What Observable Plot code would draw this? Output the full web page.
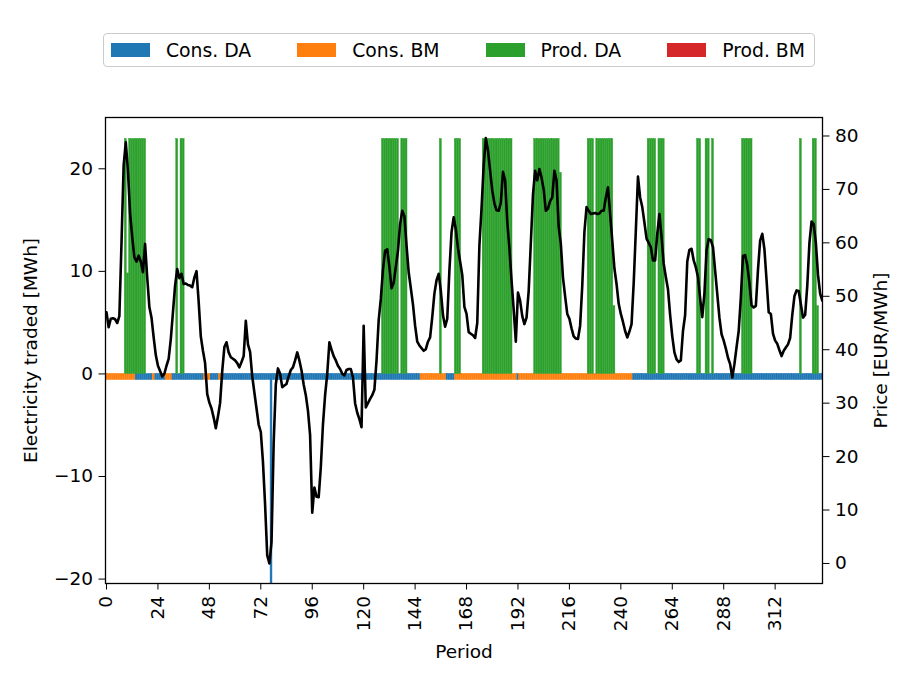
<!DOCTYPE html>
<html><head><meta charset="utf-8">
<script src="https://cdn.jsdelivr.net/npm/d3@7"></script>
<script src="https://cdn.jsdelivr.net/npm/@observablehq/plot@0.6"></script>
<style>
body{margin:0;background:#fff;font-family:"DejaVu Sans",sans-serif;}
#wrap{width:913px;}
#legend{height:67px;position:relative;}
#legend .box{position:absolute;left:103px;top:33px;width:699px;height:32px;border:1px solid #cccccc;border-radius:4px;display:flex;align-items:center;padding-left:7px;padding-right:4px;}
.item{display:flex;align-items:center;margin-right:46px;font-size:18.8px;color:#000;white-space:nowrap;}
.item:last-child{margin-right:0;}
.sw{width:39px;height:14px;margin-right:16px;}
</style></head>
<body><div id="wrap"><div id="legend"><div class="box"></div></div><div id="chart"></div></div>
<script>
// ---- data (hourly periods 0..335) ----
const seriesNames = ["Cons. DA", "Cons. BM", "Prod. DA", "Prod. BM"];
const seriesColors = ["#1f77b4", "#ff7f0e", "#2ca02c", "#d62728"];

const price = [
 47.0,44.2,45.8,45.9,45.7,45.0,46.3,60.0,74.5,78.8,73.5,65.5,61.1,57.3,56.5,57.6,56.5,54.5,59.8,53.5,48.0,46.0,42.3,39.0,
 37.0,36.0,35.0,35.5,37.0,38.3,42.0,47.0,52.0,55.1,53.4,54.2,52.3,52.4,52.1,52.0,51.7,53.5,54.7,49.0,42.5,39.8,37.5,31.7,
 30.1,29.0,27.3,25.3,27.5,30.0,36.0,40.5,41.4,39.5,38.6,38.3,38.0,37.5,36.7,37.7,38.8,45.4,41.0,39.6,35.0,32.0,29.0,26.0,
 24.6,19.0,11.0,1.5,0.0,4.0,22.5,33.5,36.5,35.5,33.0,33.3,33.6,35.0,36.2,36.7,38.0,39.5,38.0,36.1,33.5,31.5,28.6,24.0,
 9.5,14.2,12.5,12.4,18.0,26.0,31.5,35.5,41.4,40.0,38.8,38.0,37.0,36.4,35.5,35.2,36.2,36.4,36.4,34.8,30.0,28.2,27.0,25.5,
 44.5,29.2,30.0,30.8,31.5,32.5,38.0,45.5,49.5,55.0,58.5,58.8,55.5,51.5,52.5,55.5,58.5,63.5,66.0,65.0,59.5,54.5,51.5,48.5,
 44.5,41.5,40.8,40.3,39.8,40.1,41.5,42.3,46.1,50.5,53.0,54.2,51.0,46.5,44.3,45.8,54.8,62.0,64.8,62.5,59.0,56.5,54.0,48.0,
 46.7,43.3,43.0,42.7,42.2,45.0,59.5,66.5,74.5,79.6,77.3,73.5,69.8,67.4,66.1,66.0,67.5,73.3,71.7,64.0,59.0,53.0,47.5,41.5,
 50.7,49.2,46.3,44.8,46.0,51.0,60.0,69.0,73.5,71.7,73.8,72.2,70.0,66.0,66.4,67.8,68.5,73.5,71.7,63.0,59.8,53.5,50.0,46.7,
 45.8,44.0,42.5,42.1,42.0,44.5,52.0,62.0,66.7,66.0,65.4,65.5,65.6,65.4,65.5,66.0,66.0,68.5,70.4,65.4,60.4,55.2,52.3,48.6,
 46.7,45.2,43.5,42.3,43.4,44.8,52.5,62.3,72.4,68.5,66.7,63.8,60.8,60.0,59.2,56.7,56.7,61.7,65.4,61.1,56.1,53.6,51.3,46.5,
 42.5,39.5,38.2,37.7,38.0,43.5,46.5,56.5,58.7,58.9,56.7,55.4,53.6,49.6,46.1,50.5,58.6,60.7,60.5,59.2,54.8,50.4,46.0,42.9,
 41.7,40.2,38.5,37.3,34.8,37.3,40.5,43.5,49.8,57.6,57.7,55.8,52.5,48.3,47.9,48.2,55.0,60.4,61.7,58.8,53.0,47.0,46.7,43.0,
 41.7,41.1,39.9,38.8,39.8,40.4,41.0,42.2,46.5,50.0,51.1,51.0,48.5,46.0,46.5,52.0,60.0,64.0,63.5,60.0,54.0,50.5,49.2,49.0
];

const consDA = [
 0,0,0,0,0,0, 0,0,0,0,0,0, 0,0,-.6,-.6,-.6,-.6, -.6,-.6,-.6,-.6,0,-.6,
 -.6,-.6,-.6,-.6,0,0, 0,-.6,-.6,-.6,-.6,-.6, -.6,-.6,-.6,-.6,-.6,-.6, -.6,-.6,-.6,-.6,0,0,
 0,-.6,-.6,-.6,-.6,0, -.6,-.6,-.6,-.6,-.6,-.6, -.6,-.6,-.6,-.6,-.6,-.6, -.6,-.6,-.6,-.6,-.6,-.6,
 -.6,-.6,-.6,-.6,-.6,-20.9, -.6,-.6,-.6,-.6,-.6,-.6, -.6,-.6,-.6,-.6,-.6,-.6, -.6,-.6,-.6,-.6,-.6,-.6,
 -.6,-.6,-.6,-.6,-.6,-.6, -.6,-.6,-.6,-.6,-.6,-.6, -.6,-.6,-.6,-.6,-.6,-.6, -.6,-.6,-.6,-.6,-.6,-.6,
 -.6,-.6,-.6,-.6,-.6,-.6, -.6,-.6,-.6,-.6,-.6,-.6, -.6,-.6,-.6,-.6,-.6,-.6, -.6,-.6,-.6,-.6,-.6,-.6,
 -.6,-.6,-.6,0,0,0, 0,0,0,0,0,0, 0,0,0,-.6,-.6,-.6, -.6,0,0,0,0,0,
 0,0,0,0,0,0, 0,0,0,0,0,0, 0,0,0,0,0,0, 0,0,0,0,0,0,
 -.6,0,0,0,0,0, 0,0,0,0,0,0, 0,0,0,0,0,0, 0,0,0,0,0,0,
 0,0,0,0,0,0, 0,0,0,0,0,0, 0,0,0,0,0,0, 0,0,0,0,0,0,
 0,0,0,0,0,0, -.6,-.6,-.6,-.6,-.6,-.6, -.6,-.6,-.6,-.6,-.6,-.6, -.6,-.6,-.6,-.6,-.6,-.6,
 -.6,-.6,-.6,-.6,-.6,-.6, -.6,-.6,-.6,-.6,-.6,-.6, -.6,-.6,-.6,-.6,-.6,-.6, -.6,-.6,-.6,-.6,-.6,-.6,
 -.6,-.6,-.6,-.6,-.6,-.6, -.6,-.6,-.6,-.6,-.6,-.6, -.6,-.6,-.6,-.6,-.6,-.6, -.6,-.6,-.6,-.6,-.6,-.6,
 -.6,-.6,-.6,-.6,-.6,-.6, -.6,-.6,-.6,-.6,-.6,-.6, -.6,-.6,-.6,-.6,-.6,-.6, -.6,-.6,-.6,-.6,-.6,-.6
];

const consBM = [
 -.6,-.6,-.6,-.6,-.6,-.6, -.6,-.6,-.6,-.6,-.6,-.6, -.6,-.6,0,0,0,0, 0,0,0,0,-.6,0,
 0,0,0,0,-.6,-.6, -.6,0,0,0,0,0, 0,0,0,0,0,0, 0,0,0,0,-.6,-.6,
 -.6,0,0,0,0,-.6, 0,0,0,0,0,0, 0,0,0,0,0,0, 0,0,0,0,0,0,
 0,0,0,0,0,0, 0,0,0,0,0,0, 0,0,0,0,0,0, 0,0,0,0,0,0,
 0,0,0,0,0,0, 0,0,0,0,0,0, 0,0,0,0,0,0, 0,0,0,0,0,0,
 0,0,0,0,0,0, 0,0,0,0,0,0, 0,0,0,0,0,0, 0,0,0,0,0,0,
 0,0,0,-.6,-.6,-.6, -.6,-.6,-.6,-.6,-.6,-.6, -.6,-.6,-.6,0,0,0, 0,-.6,-.6,-.6,-.6,-.6,
 -.6,-.6,-.6,-.6,-.6,-.6, -.6,-.6,-.6,-.6,-.6,-.6, -.6,-.6,-.6,-.6,-.6,-.6, -.6,-.6,-.6,-.6,-.6,-.6,
 0,-.6,-.6,-.6,-.6,-.6, -.6,-.6,-.6,-.6,-.6,-.6, -.6,-.6,-.6,-.6,-.6,-.6, -.6,-.6,-.6,-.6,-.6,-.6,
 -.6,-.6,-.6,-.6,-.6,-.6, -.6,-.6,-.6,-.6,-.6,-.6, -.6,-.6,-.6,-.6,-.6,-.6, -.6,-.6,-.6,-.6,-.6,-.6,
 -.6,-.6,-.6,-.6,-.6,-.6, 0,0,0,0,0,0, 0,0,0,0,0,0, 0,0,0,0,0,0,
 0,0,0,0,0,0, 0,0,0,0,0,0, 0,0,0,0,0,0, 0,0,0,0,0,0,
 0,0,0,0,0,0, 0,0,0,0,0,0, 0,0,0,0,0,0, 0,0,0,0,0,0,
 0,0,0,0,0,0, 0,0,0,0,0,0, 0,0,0,0,0,0, 0,0,0,0,0,0
];

const prodDA = [
 0,0,0,0,0,0, 0,0,0,22.9,9.8,22.9, 22.9,22.9,22.9,22.9,22.9,22.9, 22.9,0,0,0,0,0,
 0,0,0,0,0,0, 0,0,0,22.9,0,22.9, 22.9,0,0,0,0,0, 0,0,0,0,0,0,
 0,0,0,0,0,0, 0,0,0,0,0,0, 0,0,0,0,0,0, 0,0,0,0,0,0,
 0,0,0,0,0,0, 0,0,0,0,0,0, 0,0,0,0,0,0, 0,0,0,0,0,0,
 0,0,0,0,0,0, 0,0,0,0,0,0, 0,0,0,0,0,0, 0,0,0,0,0,0,
 0,0,0,0,0,0, 0,0,0,22.9,22.9,22.9, 22.9,22.9,22.9,22.9,22.9,0, 22.9,22.9,22.9,0,0,0,
 0,0,0,0,0,0, 0,0,0,0,0,0, 22.9,0,0,0,0,0, 0,22.9,22.9,22.9,0,0,
 0,0,0,0,0,0, 0,0,22.9,22.9,22.9,22.9, 22.9,22.9,22.9,22.9,22.9,22.9, 22.9,22.9,22.9,22.9,0,0,
 0,0,0,0,0,0, 0,0,22.9,22.9,22.9,22.9, 22.9,22.9,22.9,22.9,22.9,22.9, 22.9,22.9,19.6,0,0,0,
 0,0,0,0,0,0, 0,0,0,22.9,22.9,22.9, 0,22.9,22.9,22.9,22.9,22.9, 22.9,22.9,22.9,6.6,0,0,
 0,0,0,0,0,0, 0,0,0,0,0,0, 0,22.9,22.9,22.9,22.9,0, 22.9,22.9,22.9,0,0,0,
 0,0,0,0,0,0, 0,0,0,0,0,0, 22.9,22.9,0,0,22.9,22.9, 0,22.9,0,0,0,0,
 0,0,0,0,0,0, 0,0,0,22.9,22.9,22.9, 22.9,22.9,0,0,0,0, 0,0,0,0,0,0,
 0,0,0,0,0,0, 0,0,0,0,0,0, 22.9,0,0,0,0,0, 22.9,22.9,6.6,0,0,0
];

const prodBM = []; // no balancing-market production in this window

const xTicks = [0, 24, 48, 72, 96, 120, 144, 168, 192, 216, 240, 264, 288, 312];
const yTicks = [-20, -10, 0, 10, 20];
const priceTicks = [0, 10, 20, 30, 40, 50, 60, 70, 80];
const xDomain = [-0.47, 334.1];
const yDomain = [-20.43, 25.0];
const priceDomain = [-3.75, 83.46];

for (const a of [price, consDA, consBM, prodDA]) if (a.length !== 336) throw new Error("length " + a.length);

// ---- build tables ----
const bars = [];
[[seriesNames[0], consDA], [seriesNames[1], consBM], [seriesNames[2], prodDA], [seriesNames[3], prodBM]]
  .forEach(([name, vals]) => vals.forEach((v, t) => { if (v !== 0) bars.push({t, v, name}); }));
const priceRows = price.map((p, t) => ({t, p}));
const priceToY = d3.scaleLinear().domain(priceDomain).range(yDomain);
const fmt = d => (d < 0 ? "\u2212" + Math.abs(d) : String(d));

// ---- legend ----
const box = document.querySelector("#legend .box");
seriesNames.forEach((n, i) => {
  const it = document.createElement("div"); it.className = "item";
  const sw = document.createElement("div"); sw.className = "sw"; sw.style.background = seriesColors[i];
  const tx = document.createElement("span"); tx.textContent = n;
  it.appendChild(sw); it.appendChild(tx); box.appendChild(it);
});

// ---- chart ----
const chart = Plot.plot({
  width: 913, height: 618,
  marginTop: 50, marginBottom: 102, marginLeft: 105, marginRight: 91,
  style: {fontFamily: "DejaVu Sans", fontSize: "18.5px", color: "black", background: "white", overflow: "visible"},
  x: {type: "linear", domain: xDomain},
  y: {domain: yDomain},
  color: {domain: seriesNames, range: seriesColors},
  marks: [
    Plot.rectY(bars, {x1: d => d.t - 0.45, x2: d => d.t + 0.45, y1: 0, y2: "v", fill: "name",
      stroke: "name", strokeWidth: 0.45, inset: 0, clip: true}),
    Plot.line(priceRows, {x: "t", y: d => priceToY(d.p), stroke: "black", strokeWidth: 2.6, clip: true}),
    Plot.frame({stroke: "black", strokeWidth: 1.3}),
    Plot.axisX(xTicks, {tickRotate: -90, tickSize: 6.5, tickPadding: 6, tickFormat: fmt,
      label: "Period", labelAnchor: "center", labelArrow: "none", labelOffset: 74}),
    Plot.axisY(yTicks, {anchor: "left", tickSize: 6.5, tickPadding: 6, tickFormat: fmt,
      label: "Electricity traded [MWh]", labelAnchor: "center", labelArrow: "none", labelOffset: 82}),
    Plot.axisY(priceTicks.map(v => priceToY(v)), {anchor: "right", tickSize: 6.5, tickPadding: 6,
      tickFormat: v => fmt(Math.round(priceToY.invert(v))),
      label: "Price [EUR/MWh]", labelAnchor: "center", labelArrow: "none", labelOffset: 64})
  ]
});
document.getElementById("chart").appendChild(chart);
</script></body></html>
